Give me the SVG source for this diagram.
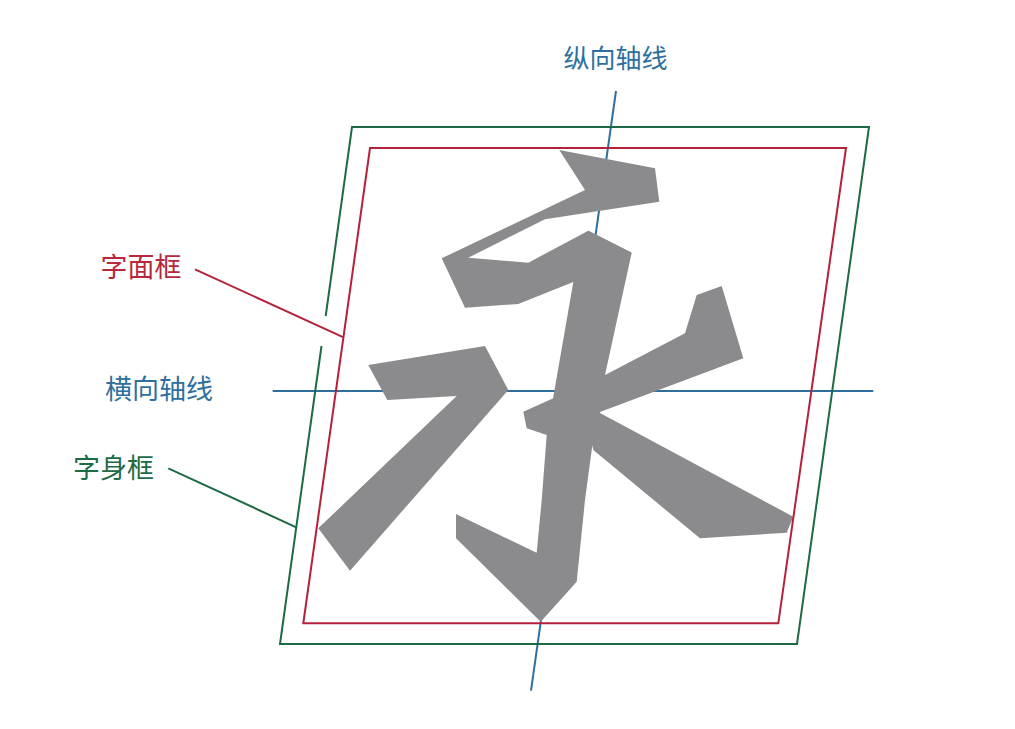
<svg xmlns="http://www.w3.org/2000/svg" width="1015" height="729" viewBox="0 0 1015 729">
<style>
.glyph{fill:#8b8a8c;stroke:none}
.frame{fill:none;stroke-width:2;stroke-linejoin:miter}
.green{stroke:#1d6b45}
.red{stroke:#b5213a}
.blue{stroke:#2e6f9e}
.lbl{font-family:"Noto Sans CJK SC","Noto Sans",sans-serif;font-size:27px}
.top{font-size:26px}
</style>
<rect x="0" y="0" width="1015" height="729" fill="#ffffff"/>
<g id="axis-vertical">
<line class="frame blue" x1="616" y1="91" x2="531" y2="690.7"/>
</g>
<g id="axis-horizontal">
<line class="frame blue" x1="272.7" y1="391" x2="873.3" y2="391"/>
</g>
<g id="character">
<polygon class="glyph" points="559.3,150 655,168.3 659.3,201.7 545,219.3 468.3,257.7 528.3,262.7 588.3,230.7 631.7,252.7 573.3,282 518.3,304 465,307.7 441.7,258.3 585,190"/>
<polygon class="glyph" points="588.3,230.7 631.7,252.7 605,375 600,413 591.7,450 585,500 576.7,581.7 540.7,621.7 456,538.3 456,514 536.7,552.7 541.7,500 546.7,435 553.3,397 573.3,282"/>
<polygon class="glyph" points="523.3,411.7 605,375 685,333.3 696.7,295 721.7,286 743.3,358.3 596.7,413.3 546.7,435 526.7,428.3"/>
<polygon class="glyph" points="595,405 600,413 793.3,516.7 786.7,532.7 700,538.3 593.3,450 590,430"/>
<polygon class="glyph" points="368.3,365 485,346 508.3,390 350,570.7 318.3,528.3 456.7,396 387.3,400"/>
</g>
<g id="frame-body">
<path class="frame green" d="M325.7,316 L352,127 L869,127 L797,644 L280,644 L321.5,346"/>
</g>
<g id="frame-face">
<polygon class="frame red" points="370,148 846,148 778.3,623.3 303.3,623.3"/>
</g>
<g id="connectors">
<line class="frame red" x1="195" y1="269.3" x2="343.5" y2="337.3"/>
<line class="frame green" x1="168.3" y1="468.3" x2="296.3" y2="527.3"/>
</g>
<g id="label-vertical">
<text class="lbl top" x="615.5" y="67.5" text-anchor="middle" fill="#2e6f9e">纵向轴线</text>
</g>
<g id="label-horizontal">
<text class="lbl" x="105" y="398.5" fill="#2e6f9e">横向轴线</text>
</g>
<g id="label-face">
<text class="lbl" x="100.5" y="276.5" fill="#b8283c">字面框</text>
</g>
<g id="label-body">
<text class="lbl" x="73" y="477.5" fill="#1d6b45">字身框</text>
</g>
</svg>
